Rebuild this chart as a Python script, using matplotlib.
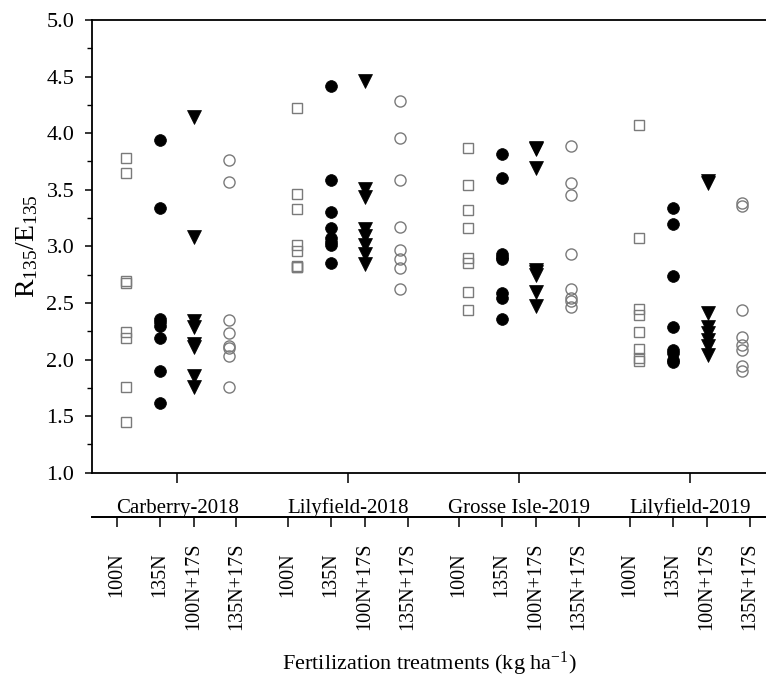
import numpy as np
import matplotlib
matplotlib.use("Agg")
import matplotlib.pyplot as plt
import matplotlib.transforms as mtransforms

plt.rcParams['font.family'] = ['Liberation Serif', 'DejaVu Serif']
plt.rcParams['mathtext.fontset'] = 'custom'
plt.rcParams['mathtext.rm'] = 'Liberation Serif'
plt.rcParams['mathtext.it'] = 'Liberation Serif:italic'

# Sites and fertilization treatments
sites = ['Carberry-2018', 'Lilyfield-2018', 'Grosse Isle-2019', 'Lilyfield-2019']
treatments = ['100N', '135N', '100N+17S', '135N+17S']

# R135/E135 per plot, one list per treatment (100N, 135N, 100N+17S, 135N+17S)
carberry_2018 = [
    [3.78, 3.65, 2.69, 2.68, 2.24, 2.19, 1.76, 1.45],
    [3.94, 3.34, 2.36, 2.33, 2.30, 2.19, 1.90, 1.62],
    [4.14, 3.08, 2.34, 2.29, 2.14, 2.11, 1.85, 1.76],
    [3.76, 3.57, 2.35, 2.23, 2.12, 2.10, 2.03, 1.76],
]
lilyfield_2018 = [
    [4.22, 3.46, 3.33, 3.01, 2.96, 2.83, 2.82, 2.82],
    [4.42, 3.59, 3.30, 3.16, 3.07, 3.04, 3.01, 2.85],
    [4.46, 3.51, 3.44, 3.15, 3.09, 3.01, 2.93, 2.84],
    [4.28, 3.96, 3.59, 3.17, 2.97, 2.89, 2.81, 2.62],
]
grosse_isle_2019 = [
    [3.87, 3.54, 3.32, 3.16, 2.90, 2.85, 2.60, 2.44],
    [3.82, 3.60, 2.93, 2.91, 2.89, 2.59, 2.54, 2.36],
    [3.87, 3.86, 3.69, 2.79, 2.77, 2.75, 2.60, 2.47],
    [3.89, 3.56, 3.45, 2.93, 2.62, 2.54, 2.52, 2.46],
]
lilyfield_2019 = [
    [4.07, 3.07, 2.45, 2.39, 2.24, 2.09, 2.01, 1.99],
    [3.34, 3.20, 2.74, 2.29, 2.08, 2.06, 2.00, 1.98],
    [3.58, 3.56, 2.41, 2.29, 2.23, 2.17, 2.12, 2.04],
    [3.38, 3.36, 2.44, 2.20, 2.13, 2.08, 1.94, 1.90],
]
site_data = [carberry_2018, lilyfield_2018, grosse_isle_2019, lilyfield_2019]

gray = '#7a7a7a'
styles = [
    dict(marker='s', ms=7, mfc='none', mec=gray, mew=1.0),
    dict(marker='o', ms=8.5, mfc='black', mec='black', mew=0.5),
    dict(marker='v', ms=9.5, mfc='black', mec='black', mew=0.5),
    dict(marker='o', ms=8, mfc='none', mec=gray, mew=1.0),
]

group_step = 5
fig = plt.figure(figsize=(7.66, 6.77), dpi=100)
ax = fig.add_axes([0.1205, 0.3018, 0.8795, 0.6687])

for g, site in enumerate(site_data):
    for t, vals in enumerate(site):
        x = np.full(len(vals), g * group_step + t, dtype=float)
        ax.plot(x, vals, linestyle='none', **styles[t])

ax.set_xlim(-0.985, 18.71)
ax.set_ylim(1.0, 5.0)
ax.set_yticks(np.arange(1.0, 5.01, 0.5))
ax.set_yticks(np.arange(1.25, 5.0, 0.5), minor=True)
ax.yaxis.set_major_formatter(matplotlib.ticker.FormatStrFormatter('%.1f'))
ax.tick_params(axis='y', which='major', direction='out', length=5, width=1.1,
               labelsize=16, pad=8)
ax.tick_params(axis='y', which='minor', direction='out', length=3.5, width=1.0)

centers = [g * group_step + 1.5 for g in range(len(sites))]
ax.set_xticks(centers)
ax.set_xticklabels([''] * len(centers))
ax.tick_params(axis='x', direction='out', length=7, width=1.1)

for side in ['left', 'bottom', 'top']:
    ax.spines[side].set_linewidth(1.3)
ax.spines['right'].set_visible(False)

ax.set_ylabel(r'$\mathregular{R_{135}/E_{135}}$', fontsize=20)
ax.yaxis.set_label_coords(-0.078, 0.5)

# Site names sit between the main axis and the treatment axis
trans = mtransforms.blended_transform_factory(ax.transData, ax.transAxes)
for c, name in zip(centers, sites):
    ax.text(c, -0.0884, name, transform=trans, ha='center', va='baseline',
            fontsize=15)

# Treatment axis below the site names
tick_offsets = [-0.27, 0.98, 1.99, 3.23]
sec_loc = -0.0985
short_ticks, short_labels, long_ticks, long_labels = [], [], [], []
for g in range(len(sites)):
    for off, name in zip(tick_offsets, treatments):
        pos = g * group_step + off
        if '+' in name:
            long_ticks.append(pos)
            long_labels.append(name)
        else:
            short_ticks.append(pos)
            short_labels.append(name)

for ticks, labels, pad in [(short_ticks, short_labels, 18),
                           (long_ticks, long_labels, 11)]:
    sec = ax.secondary_xaxis(sec_loc)
    sec.set_xticks(ticks)
    sec.set_xticklabels(labels, rotation=90, fontsize=14.5)
    sec.tick_params(axis='x', direction='out', length=7, width=1.1, pad=pad)
    sec.spines['bottom'].set_linewidth(1.3)

ax.set_xlabel(r'Fertilization treatments (kg ha$\mathregular{^{-1}}$)', fontsize=16)
ax.xaxis.label.set_va('baseline')
ax.xaxis.set_label_coords(0.5, -0.4355)

fig.savefig('out.png', dpi=100)
